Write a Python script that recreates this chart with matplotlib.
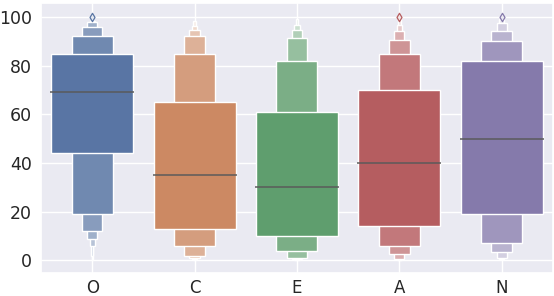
import matplotlib
matplotlib.use("Agg")
import matplotlib.pyplot as plt
import matplotlib.colors as mcolors
import numpy as np
import seaborn as sns

sns.set_theme(style="darkgrid")

# categories and letter-value box edges (innermost level first)
categories = ["O", "C", "E", "A", "N"]
medians = [69, 35, 30, 40, 50]
lower_levels = [
    [44, 19, 12, 9, 6, 2, 0],
    [13, 6, 2, 1, 0.5, 0],
    [10, 4, 1, 0.5, 0, 0],
    [14, 6, 2.5, 0.5, 0, 0],
    [19, 7, 3.5, 1, 0.5],
]
upper_levels = [
    [85, 92, 96, 98, 98.5, 99, 99.5],
    [65, 85, 92, 94.5, 96.5, 98.5],
    [61, 82, 91.5, 94.7, 96.7, 99],
    [70, 85, 90.6, 94.4, 96.7, 99.5],
    [82, 90, 94.4, 97.7, 99],
]
outliers = [[100], [], [], [100], [100]]

base = sns.color_palette("deep", 5, desat=0.75)

fig = plt.figure(figsize=(5.54, 2.96), dpi=100)
ax = fig.add_axes([0.074, 0.079, 0.924, 0.912])

for i, cat in enumerate(categories):
    lo = lower_levels[i]
    up = upper_levels[i]
    n = len(lo)
    col = np.array(mcolors.to_rgb(base[i]))
    light = col + (1 - col) * 0.85
    # outer (narrow, light) levels first, inner on top
    for k in range(n - 1, -1, -1):
        t = k / (n - 1)
        c = col * (1 - t) + light * t
        w = 0.8 * 0.5 ** k
        ax.bar(i, up[k] - lo[k], bottom=lo[k], width=w, color=c,
               edgecolor="white", linewidth=1.0, zorder=2)
    ax.hlines(medians[i], i - 0.41, i + 0.41, color="#5a5a5a", linewidth=1.2,
              alpha=0.9, zorder=3)
    if outliers[i]:
        ax.scatter([i] * len(outliers[i]), outliers[i], marker="d", s=18,
                   facecolor=light, edgecolor=col, linewidth=0.9, zorder=4)

ax.set_xlim(-0.5, 4.5)
ax.set_ylim(-5, 105.9)
ax.set_xticks(range(len(categories)))
ax.set_xticklabels(categories)
ax.set_yticks([0, 20, 40, 60, 80, 100])
ax.tick_params(axis="y", labelsize=12.5, pad=6.5, length=0)
ax.tick_params(axis="x", labelsize=12, pad=4.5, length=0)
ax.grid(True, color="white", linewidth=1)
ax.set_axisbelow(True)

fig.savefig("out.png", dpi=100)
